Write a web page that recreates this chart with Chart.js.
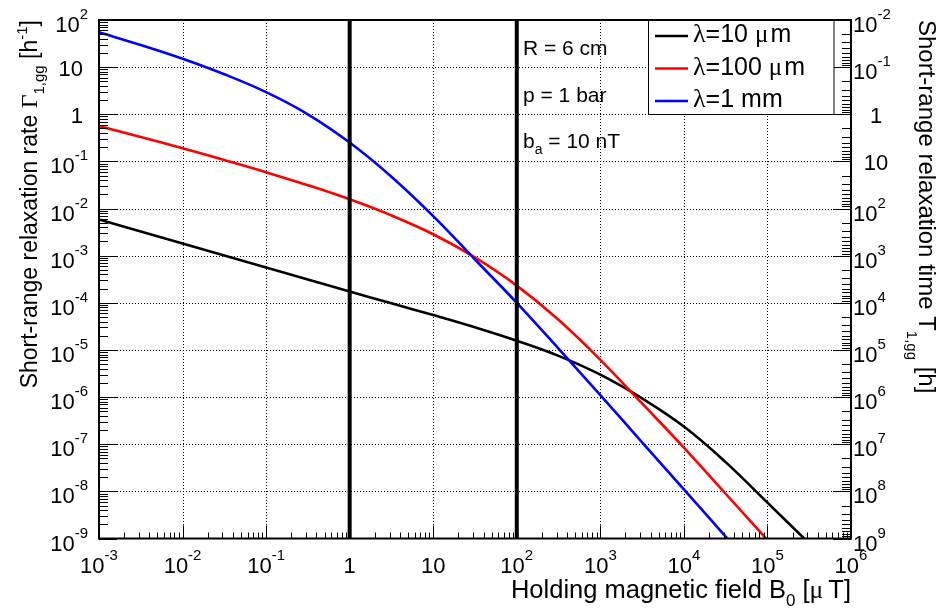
<!DOCTYPE html>
<html>
<head>
<meta charset="utf-8">
<script src="https://cdn.jsdelivr.net/npm/chart.js@4.4.1/dist/chart.umd.min.js"></script>
<style>
  html, body { margin: 0; padding: 0; background: #fff; }
  canvas { display: block; }
</style>
</head>
<body>
<canvas id="relaxChart" width="941" height="610"></canvas>
<script>
// Holding magnetic field B0 [uT], half-decade steps
const field = [1e-3, 3.16e-3, 1e-2, 3.16e-2, 0.1, 0.316, 1, 3.16, 10, 31.6, 100, 316, 1000, 3160, 1e4, 3.16e4, 1e5, 3.16e5];

// Short-range relaxation rate [1/h] for each lambda
const rate10um = [5.89e-3, 3.27e-3, 1.82e-3, 1.01e-3, 5.62e-4, 3.13e-4, 1.74e-4, 9.77e-5, 5.5e-5, 3.02e-5, 1.57e-5, 7.5e-6, 2.99e-6, 9.4e-7, 2.37e-7, 4.17e-8, 5.75e-9, 7.9e-10];
const rate100um = [0.562, 0.331, 0.191, 0.107, 0.0589, 0.0313, 0.0157, 7.16e-3, 2.85e-3, 9.2e-4, 2.32e-4, 4.37e-5, 6.17e-6, 7.33e-7, 8.5e-8, 8.9e-9, 9.3e-10, 9.3e-11];
const rate1mm = [55, 29.5, 15.1, 7.08, 2.95, 1.0, 0.251, 0.0473, 6.9e-3, 8.3e-4, 1.0e-4, 1.07e-5, 1.1e-6, 1.1e-7, 1.1e-8, 1.1e-9, 1.1e-10, 1.1e-11];

const seriesNames = ['\u03bb=10 \u03bcm', '\u03bb=100 \u03bcm', '\u03bb=1 mm'];
const seriesColors = ['#000000', '#ff0000', '#0000ff'];

// Vertical markers at B0 = 1 uT and 100 uT
const markerFields = [1, 100];

// Tick decades (exponents)
const fieldExp = [-3, -2, -1, 0, 1, 2, 3, 4, 5, 6];
const rateExp = [2, 1, 0, -1, -2, -3, -4, -5, -6, -7, -8, -9];
const timeExp = [-2, -1, 0, 1, 2, 3, 4, 5, 6, 7, 8, 9];

const notes = ['R = 6 cm', 'p = 1 bar', 'b|a| = 10 nT'];

const SANS = '"Liberation Sans", Arial, Helvetica, sans-serif';
const SERIF = '"Liberation Serif", "Times New Roman", serif';

function fontOf(p) {
    return p.size + 'px ' + (p.serif ? SERIF : SANS);
}

function richWidth(ctx, parts) {
    let w = 0;
    parts.forEach(p => { ctx.font = fontOf(p); w += ctx.measureText(p.t).width; });
    return w;
}

function richDraw(ctx, parts, x, y) {
    ctx.textAlign = 'left';
    ctx.textBaseline = 'alphabetic';
    parts.forEach(p => {
        ctx.font = fontOf(p);
        ctx.fillText(p.t, x, y + (p.dy || 0));
        x += ctx.measureText(p.t).width;
    });
}

// "10^n" label as rich parts
function powParts(n) {
    if (n === 0) return [{ t: '1', size: 22 }];
    if (n === 1) return [{ t: '10', size: 22 }];
    return [{ t: '10', size: 22 }, { t: String(n), size: 15, dy: -13 }];
}

const lo = e => Math.pow(10, e);

const rootStyle = {
    id: 'rootStyle',
    beforeDatasetsDraw(chart) {
        const { ctx, chartArea: a, scales } = chart;
        ctx.save();
        ctx.strokeStyle = '#000';
        ctx.lineWidth = 1;
        ctx.setLineDash([1, 2]);
        fieldExp.slice(1, -1).forEach(e => {
            const x = Math.round(scales.x.getPixelForValue(lo(e))) + 0.5;
            ctx.beginPath(); ctx.moveTo(x, a.top); ctx.lineTo(x, a.bottom); ctx.stroke();
        });
        rateExp.slice(1, -1).forEach(e => {
            const y = Math.round(scales.y.getPixelForValue(lo(e))) + 0.5;
            ctx.beginPath(); ctx.moveTo(a.left, y); ctx.lineTo(a.right, y); ctx.stroke();
        });
        ctx.restore();
    },
    afterDatasetsDraw(chart) {
        const { ctx, chartArea: a, scales } = chart;
        ctx.save();
        ctx.strokeStyle = '#000';
        ctx.fillStyle = '#000';

        // frame
        ctx.lineWidth = 2;
        ctx.strokeRect(a.left, a.top, a.right - a.left, a.bottom - a.top);

        // ticks
        ctx.lineWidth = 1;
        const tick = (x1, y1, x2, y2) => {
            ctx.beginPath(); ctx.moveTo(x1, y1); ctx.lineTo(x2, y2); ctx.stroke();
        };
        fieldExp.forEach((e, i) => {
            for (let k = 1; k <= 9; k++) {
                if (k > 1 && i === fieldExp.length - 1) break;
                const x = Math.round(scales.x.getPixelForValue(k * lo(e))) + 0.5;
                tick(x, a.bottom, x, a.bottom - (k === 1 ? 13 : 6));
            }
        });
        rateExp.slice().reverse().forEach((e, i) => {
            for (let k = 1; k <= 9; k++) {
                if (k > 1 && i === rateExp.length - 1) break;
                const y = Math.round(scales.y.getPixelForValue(k * lo(e))) + 0.5;
                tick(a.left, y, a.left + (k === 1 ? 18 : 9), y);
            }
        });
        timeExp.forEach((e, i) => {
            for (let k = 1; k <= 9; k++) {
                if (k > 1 && i === timeExp.length - 1) break;
                const y = Math.round(scales.t.getPixelForValue(k * lo(e))) + 0.5;
                tick(a.right, y, a.right - (k === 1 ? 18 : 9), y);
            }
        });

        // tick labels
        fieldExp.forEach(e => {
            const parts = powParts(e);
            const w = richWidth(ctx, parts);
            const x = scales.x.getPixelForValue(lo(e));
            richDraw(ctx, parts, x - w / 2, 573);
        });
        rateExp.forEach(e => {
            const parts = powParts(e);
            const w = richWidth(ctx, parts);
            const y = scales.y.getPixelForValue(lo(e));
            if (parts.length > 1) richDraw(ctx, parts, 88 - w, y + 12);
            else richDraw(ctx, parts, 83 - w, y + 9);
        });
        timeExp.forEach(e => {
            const parts = powParts(e);
            const w = richWidth(ctx, parts);
            const y = scales.t.getPixelForValue(lo(e));
            if (parts.length > 1) richDraw(ctx, parts, 853, y + 12);
            else richDraw(ctx, parts, 876 - w / 2, y + 9);
        });

        // axis titles
        const xTitle = [
            { t: 'Holding magnetic field B', size: 25.5 },
            { t: '0', size: 17, dy: 8 },
            { t: ' [', size: 25.5 },
            { t: '\u03bc', size: 25.5, serif: true },
            { t: '\u2009T]', size: 25.5 }
        ];
        richDraw(ctx, xTitle, a.right - richWidth(ctx, xTitle), 598);

        const yTitle = [
            { t: 'Short-range relaxation rate ', size: 23 },
            { t: '\u0393', size: 24, serif: true },
            { t: '1,gg', size: 15, dy: 7 },
            { t: ' [h', size: 23 },
            { t: '-1', size: 15, dy: -10 },
            { t: ']', size: 23 }
        ];
        ctx.save();
        ctx.translate(37, a.top);
        ctx.rotate(-Math.PI / 2);
        richDraw(ctx, yTitle, -richWidth(ctx, yTitle), 0);
        ctx.restore();

        const tTitle = [
            { t: 'Short-range relaxation time T', size: 24 },
            { t: '1,gg', size: 15, dy: 12 },
            { t: ' [h]', size: 24 }
        ];
        ctx.save();
        ctx.translate(919, 20);
        ctx.rotate(Math.PI / 2);
        richDraw(ctx, tTitle, 0, 0);
        ctx.restore();

        // parameter notes
        notes.forEach((s, i) => {
            const bits = s.split('|');
            const parts = bits.length > 1
                ? [{ t: bits[0], size: 21 }, { t: bits[1], size: 14, dy: 6 }, { t: bits[2], size: 21 }]
                : [{ t: s, size: 21 }];
            richDraw(ctx, parts, 523, 55 + i * 46.7);
        });

        // legend
        ctx.fillStyle = '#fff';
        ctx.fillRect(648.5, 20.5, 185.5, 94);
        ctx.lineWidth = 1;
        ctx.strokeRect(648.5, 20.5, 185.5, 94);
        seriesNames.forEach((name, i) => {
            const base = 42 + i * 32.5;
            ctx.strokeStyle = seriesColors[i];
            ctx.lineWidth = 2.7;
            tick(655, base - 6, 688, base - 6);
            ctx.fillStyle = '#000';
            const m = name.match(/^(\u03bb)(=\d+ )(\u03bc?)(m+)$/);
            const parts = [
                { t: m[1], size: 26, serif: true },
                { t: m[2], size: 25 },
                { t: m[3], size: 25, serif: true },
                { t: (m[3] ? '\u200a' : '') + m[4], size: 25 }
            ];
            richDraw(ctx, parts, 693, base);
        });

        ctx.restore();
    }
};

const toPoints = ys => field.map((b, i) => ({ x: b, y: ys[i] }));
const rateMin = lo(Math.min(...rateExp));
const rateMax = lo(Math.max(...rateExp));

const markerSets = markerFields.map(b => ({
    label: 'B0 = ' + b,
    data: [{ x: b, y: rateMin }, { x: b, y: rateMax }],
    borderColor: '#000',
    borderWidth: 4,
    order: 0
}));

const curveSets = [rate10um, rate100um, rate1mm].map((ys, i) => ({
    label: seriesNames[i],
    data: toPoints(ys),
    borderColor: seriesColors[i],
    borderWidth: 2.6,
    tension: 0.4,
    order: 3 - i
}));

new Chart(document.getElementById('relaxChart').getContext('2d'), {
    type: 'line',
    data: { datasets: markerSets.concat(curveSets) },
    options: {
        responsive: false,
        animation: false,
        layout: { padding: { left: 99, right: 90, top: 20, bottom: 71.5 } },
        elements: { point: { radius: 0 } },
        plugins: { legend: { display: false }, tooltip: { enabled: false } },
        scales: {
            x: { type: 'logarithmic', min: lo(fieldExp[0]), max: lo(fieldExp[fieldExp.length - 1]), display: false },
            y: { type: 'logarithmic', min: rateMin, max: rateMax, display: false },
            t: { type: 'logarithmic', position: 'right', min: lo(timeExp[0]), max: lo(timeExp[timeExp.length - 1]), reverse: true, display: false }
        }
    },
    plugins: [rootStyle]
});
</script>
</body>
</html>
